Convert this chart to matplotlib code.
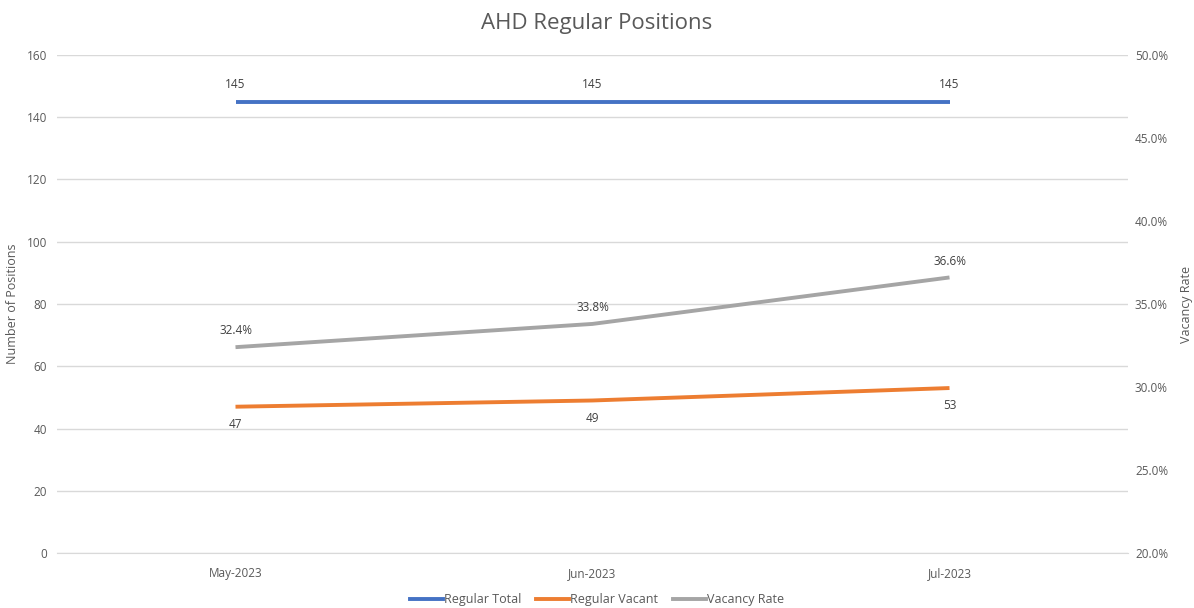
import matplotlib.pyplot as plt
from matplotlib.lines import Line2D

# datos
meses = ["May-2023", "Jun-2023", "Jul-2023"]
regular_total = [145, 145, 145]
regular_vacant = [47, 49, 53]
vacancy_rate = [32.4, 33.8, 36.6]

plt.rcParams['font.family'] = ['Open Sans', 'DejaVu Sans']
gris = "#595959"

fig = plt.figure(figsize=(11.94, 6.08), dpi=100)
ax = fig.add_axes([57/1194, 1-553/608, (1128-57)/1194, (553-55)/608])
ax2 = ax.twinx()

x = list(range(len(meses)))
ax.plot(x, regular_total, color="#4472C4", lw=2.8, solid_capstyle="butt")
ax.plot(x, regular_vacant, color="#ED7D31", lw=2.8, solid_capstyle="butt")
ax2.plot(x, vacancy_rate, color="#A5A5A5", lw=2.8, solid_capstyle="butt")

ax.set_xlim(-0.5, 2.5)
ax.set_ylim(0, 160)
ax.set_yticks(range(0, 161, 20))
ax2.set_ylim(20, 50)
ax2.set_yticks(range(20, 51, 5))
ax2.set_yticklabels([f"{v:.1f}%" for v in range(20, 51, 5)])
ax.set_xticks(x)
ax.set_xticklabels(meses)

ax.grid(axis="y", color="#D9D9D9", lw=1)
ax.set_axisbelow(True)
for a in (ax, ax2):
    for s in a.spines.values():
        s.set_visible(False)
    a.tick_params(length=0, colors=gris, labelsize=8.5)
ax.spines["bottom"].set_visible(True)
ax.spines["bottom"].set_color("#D9D9D9")
ax.tick_params(axis="x", pad=10)
ax.tick_params(axis="y", pad=7)
ax2.tick_params(axis="y", pad=5)

ax.set_ylabel("Number of Positions", color=gris, fontsize=9)
ax2.set_ylabel("Vacancy Rate", color=gris, fontsize=9)
ax.yaxis.set_label_coords(-38/1071, 0.5)
ax2.yaxis.set_label_coords(1 + 52/1071, 0.5)

# etiquetas de datos
for i in x:
    ax.annotate(str(regular_total[i]), (i, regular_total[i]), xytext=(0, 8),
                textcoords="offset points", ha="center", va="bottom", fontsize=8.5, color="#404040")
    ax.annotate(str(regular_vacant[i]), (i, regular_vacant[i]), xytext=(0, -8),
                textcoords="offset points", ha="center", va="top", fontsize=8.5, color="#404040")
    ax2.annotate(f"{vacancy_rate[i]:.1f}%", (i, vacancy_rate[i]), xytext=(0, 7),
                 textcoords="offset points", ha="center", va="bottom", fontsize=8.5, color="#404040")

fig.suptitle("AHD Regular Positions", y=0.978, fontsize=16, color=gris)

handles = [Line2D([], [], color="#4472C4", lw=2.8),
           Line2D([], [], color="#ED7D31", lw=2.8),
           Line2D([], [], color="#A5A5A5", lw=2.8)]
fig.legend(handles, ["Regular Total", "Regular Vacant", "Vacancy Rate"], loc="center",
           bbox_to_anchor=(0.5, 1-600/608), ncol=3, frameon=False, fontsize=9,
           labelcolor=gris, handlelength=2.6, handletextpad=0.1, columnspacing=1.2)

fig.savefig("out.png", dpi=100)
